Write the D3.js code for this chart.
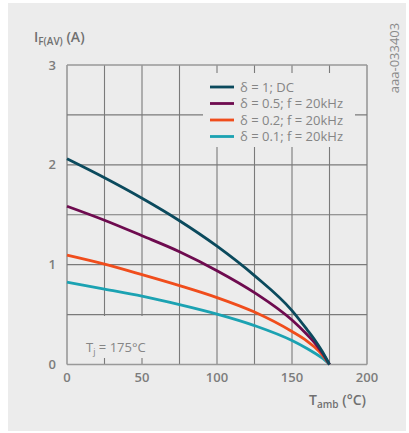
<!DOCTYPE html>
<html>
<head>
<meta charset="utf-8">
<script src="https://cdn.jsdelivr.net/npm/d3@7/dist/d3.min.js"></script>
<style>
  html, body { margin: 0; padding: 0; background: #ffffff; }
  svg { display: block; font-family: "Open Sans", "Noto Sans", sans-serif; }
</style>
</head>
<body>
<svg id="chart" width="409" height="433"></svg>
<script>
// ---- data ----
const temps = [0, 25, 50, 75, 100, 125, 150, 160, 165, 170, 175];
const seriesNames = ["δ = 1; DC", "δ = 0.5; f = 20kHz", "δ = 0.2; f = 20kHz", "δ = 0.1; f = 20kHz"];
const dcValues    = [2.06, 1.87, 1.665, 1.44, 1.185, 0.89, 0.54, 0.35, 0.25, 0.135, 0];
const d05Values   = [1.585, 1.445, 1.29, 1.13, 0.94, 0.72, 0.445, 0.30, 0.22, 0.12, 0];
const d02Values   = [1.095, 1.005, 0.90, 0.79, 0.67, 0.525, 0.33, 0.235, 0.175, 0.10, 0];
const d01Values   = [0.825, 0.755, 0.685, 0.60, 0.505, 0.39, 0.24, 0.16, 0.115, 0.065, 0];
const seriesColors = ["#0b4a5d", "#6e0b4f", "#f04d1c", "#1ba2b2"];
const xTicks = [0, 50, 100, 150, 200];
const yTicks = [0, 1, 2, 3];
const xGrid = [0, 25, 50, 75, 100, 125, 150, 175, 200];
const yGrid = [0, 0.5, 1, 1.5, 2, 2.5, 3];

const allSeries = [dcValues, d05Values, d02Values, d01Values];

const svg = d3.select("#chart");
svg.append("rect").attr("x", 8).attr("y", 3).attr("width", 398).attr("height", 428).attr("fill", "#ececec");

const x = d3.scaleLinear().domain([0, 200]).range([67, 367]);
const y = d3.scaleLinear().domain([0, 3]).range([364.5, 65]);

const gridColor = "#7a7a7a";
const g = svg.append("g");
g.selectAll("line.v").data(xGrid).join("line")
  .attr("x1", d => x(d)).attr("x2", d => x(d))
  .attr("y1", y(0)).attr("y2", y(3))
  .attr("stroke", d => (d === 0 || d === 200) ? "#999" : gridColor)
  .attr("stroke-width", d => (d === 0 || d === 200) ? 1.6 : 1.1);
g.selectAll("line.h").data(yGrid).join("line")
  .attr("x1", x(0)).attr("x2", x(200))
  .attr("y1", d => y(d)).attr("y2", d => y(d))
  .attr("stroke", d => (d === 0 || d === 3) ? "#999" : gridColor)
  .attr("stroke-width", d => (d === 0 || d === 3) ? 1.6 : 1.1);

// boxes covering grid
svg.append("rect").attr("x", 203).attr("y", 73).attr("width", 152).attr("height", 74).attr("fill", "#ececec");
svg.append("rect").attr("x", 69).attr("y", 316).attr("width", 96).attr("height", 42).attr("fill", "#ececec");

// curves
const line = d3.line()
  .x((d, i) => x(temps[i]))
  .y(d => y(d))
  .curve(d3.curveMonotoneX);
svg.append("g").selectAll("path").data(allSeries.slice().reverse()).join("path")
  .attr("d", d => line(d))
  .attr("fill", "none")
  .attr("stroke", (d, i) => seriesColors[3 - i])
  .attr("stroke-width", 2.8);

// tick labels
const tickColor = "#7c7c7c";
svg.append("g").selectAll("text").data(xTicks).join("text")
  .attr("x", d => x(d)).attr("y", 382)
  .attr("text-anchor", "middle")
  .attr("font-size", 13).attr("font-weight", 600).attr("fill", tickColor)
  .text(d => d);
svg.append("g").selectAll("text").data(yTicks).join("text")
  .attr("x", 56).attr("y", d => y(d) + 4.5)
  .attr("text-anchor", "end")
  .attr("font-size", 13).attr("font-weight", 600).attr("fill", tickColor)
  .text(d => d);

// axis titles
const yt = svg.append("text").attr("x", 34).attr("y", 42)
  .attr("font-size", 14).attr("font-weight", 600).attr("fill", "#707070");
yt.append("tspan").text("I");
yt.append("tspan").attr("font-size", 10).attr("dy", 3).text("F(AV)");
yt.append("tspan").attr("dy", -3).text(" (A)");

const xt = svg.append("text").attr("x", 366).attr("y", 405).attr("text-anchor", "end")
  .attr("font-size", 14).attr("font-weight", 600).attr("fill", "#707070");
xt.append("tspan").text("T");
xt.append("tspan").attr("font-size", 10).attr("dy", 3).text("amb");
xt.append("tspan").attr("dy", -3).text(" (°C)");

// Tj annotation
const tj = svg.append("text").attr("x", 86).attr("y", 352)
  .attr("font-size", 13).attr("fill", "#858585");
tj.append("tspan").text("T");
tj.append("tspan").attr("font-size", 9).attr("dy", 3).text("j");
tj.append("tspan").attr("dy", -3).text(" = 175°C");

// legend
const leg = svg.append("g");
const legY = [87, 103.5, 120, 136.5];
seriesNames.forEach((name, i) => {
  leg.append("line").attr("x1", 210).attr("x2", 234)
    .attr("y1", legY[i]).attr("y2", legY[i])
    .attr("stroke", seriesColors[i]).attr("stroke-width", 2.8);
  leg.append("text").attr("x", 240).attr("y", legY[i] + 4.5)
    .attr("font-size", 13).attr("fill", "#858585").text(name);
});

// figure code
svg.append("text").attr("transform", "translate(399,58) rotate(-90)")
  .attr("text-anchor", "middle").attr("font-size", 13).attr("fill", "#8a8a8a")
  .text("aaa-033403");
</script>
</body>
</html>
